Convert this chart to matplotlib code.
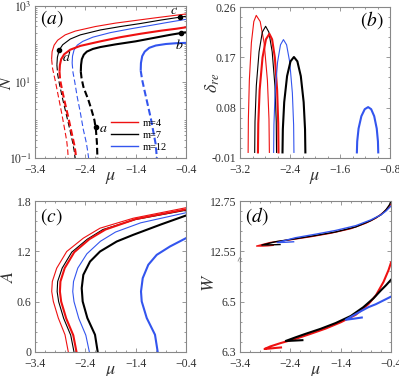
import numpy as np
import matplotlib
matplotlib.use('Agg')
import matplotlib.pyplot as plt
from matplotlib.ticker import MultipleLocator, FixedLocator, LogLocator, NullFormatter, AutoMinorLocator
from matplotlib.lines import Line2D

# ---------------- data: panel (a)  N(mu), stored as log10(N) ----------------
a_red_thin_lo_mu = [-3.07, -3.05, -3.0, -2.94, -2.87, -2.81, -2.77, -2.75, -2.74]
a_red_thin_lo_lgN = [1.6, 1.35, 1.05, 0.65, 0.18, -0.25, -0.55, -0.8, -1.0]
a_red_thin_up_mu = [-3.07, -3.06, -3.02, -2.95, -2.8, -2.6, -2.2, -1.8, -1.4, -1.0, -0.7, -0.4]
a_red_thin_up_lgN = [1.6, 1.8, 1.97, 2.1, 2.24, 2.34, 2.46, 2.55, 2.62, 2.69, 2.74, 2.79]

a_blk_thin_lo_mu = [-2.965, -2.95, -2.91, -2.85, -2.77, -2.7, -2.65, -2.62, -2.605]
a_blk_thin_lo_lgN = [1.45, 1.2, 0.92, 0.55, 0.1, -0.3, -0.6, -0.82, -1.0]
a_blk_thin_up_mu = [-2.965, -2.955, -2.92, -2.85, -2.7, -2.5, -2.1, -1.7, -1.3, -0.9, -0.6, -0.4]
a_blk_thin_up_lgN = [1.45, 1.65, 1.84, 1.98, 2.13, 2.24, 2.37, 2.46, 2.54, 2.63, 2.69, 2.73]

a_red_thick_lo_mu = [-2.913, -2.9, -2.86, -2.8, -2.73, -2.67, -2.62, -2.595, -2.585]
a_red_thick_lo_lgN = [1.27, 1.05, 0.78, 0.42, 0.02, -0.35, -0.65, -0.85, -1.0]
a_red_thick_up_mu = [-2.913, -2.905, -2.88, -2.82, -2.7, -2.5, -2.1, -1.7, -1.3, -0.9, -0.6, -0.4]
a_red_thick_up_lgN = [1.27, 1.45, 1.6, 1.73, 1.85, 1.95, 2.07, 2.18, 2.27, 2.35, 2.40, 2.44]

a_blu_thin_lo_mu = [-2.662, -2.645, -2.61, -2.56, -2.5, -2.44, -2.38, -2.35, -2.335]
a_blu_thin_lo_lgN = [1.5, 1.25, 1.0, 0.6, 0.2, -0.25, -0.6, -0.85, -1.0]
a_blu_thin_up_mu = [-2.662, -2.655, -2.625, -2.56, -2.45, -2.25, -1.9, -1.5, -1.1, -0.8, -0.4]
a_blu_thin_up_lgN = [1.5, 1.68, 1.84, 1.97, 2.07, 2.18, 2.30, 2.40, 2.49, 2.56, 2.65]

a_blk_thick_lo_mu = [-2.49, -2.475, -2.44, -2.39, -2.34, -2.28, -2.22, -2.19, -2.17, -2.16]
a_blk_thick_lo_lgN = [1.27, 1.1, 0.88, 0.7, 0.53, 0.28, 0.0, -0.25, -0.6, -1.0]
a_blk_thick_up_mu = [-2.49, -2.485, -2.47, -2.43, -2.37, -2.25, -2.1, -1.8, -1.4, -1.0, -0.7, -0.4]
a_blk_thick_up_lgN = [1.27, 1.45, 1.6, 1.72, 1.8, 1.87, 1.92, 1.99, 2.07, 2.17, 2.245, 2.31]

a_blu_thick_lo_mu = [-1.30, -1.27, -1.22, -1.16, -1.10, -1.05, -1.0, -0.98]
a_blu_thick_lo_lgN = [1.3, 1.05, 0.75, 0.4, 0.05, -0.3, -0.65, -1.0]
a_blu_thick_up_mu = [-1.30, -1.295, -1.27, -1.22, -1.13, -1.0, -0.8, -0.6, -0.4]
a_blu_thick_up_lgN = [1.3, 1.5, 1.68, 1.80, 1.9, 1.96, 2.0, 2.02, 2.03]

pt_labels = ['a', 'b', 'c', 'd']
pt_mu = [-2.194, -0.5, -0.52, -2.92]
pt_lgN = [-0.18, 2.29, 2.71, 1.84]

legend_labels = ['m=4', 'm=7', 'm=12']

# ---------------- data: panel (b) growth rate delta_re(mu) ----------------
b_red_thin_mu = [-3.07, -3.066, -3.0505, -3.018, -2.979, -2.94, -2.877, -2.814, -2.7615, -2.7363, -2.73]
b_red_thin_d = [0, 0.0595, 0.129, 0.196, 0.234, 0.245, 0.234, 0.196, 0.129, 0.0595, 0]
b_blk_thin_mu = [-2.965, -2.960, -2.939, -2.895, -2.843, -2.79, -2.738, -2.685, -2.641, -2.620, -2.615]
b_blk_thin_d = [0, 0.055, 0.119, 0.180, 0.215, 0.2255, 0.215, 0.180, 0.119, 0.055, 0]
b_red_thick_mu = [-2.913, -2.9075, -2.8856, -2.8398, -2.7849, -2.73, -2.6862, -2.6424, -2.6059, -2.5884, -2.584]
b_red_thick_d = [0, 0.0515, 0.1117, 0.1696, 0.2022, 0.212, 0.2022, 0.1696, 0.1117, 0.0515, 0]
b_blu_thin_mu = [-2.662, -2.6573, -2.6385, -2.5992, -2.5521, -2.505, -2.4546, -2.4042, -2.3622, -2.342, -2.337]
b_blu_thin_d = [0, 0.049, 0.1063, 0.1614, 0.1924, 0.2017, 0.1924, 0.1614, 0.1063, 0.049, 0]
b_blk_thick_mu = [-2.52, -2.5145, -2.4926, -2.4468, -2.3919, -2.337, -2.2821, -2.2272, -2.1815, -2.1595, -2.154]
b_blk_thick_d = [0, 0.0415, 0.0899, 0.1365, 0.1628, 0.1706, 0.1628, 0.1365, 0.0899, 0.0415, 0]
b_blu_thick_mu = [-1.33, -1.3246, -1.303, -1.258, -1.204, -1.15, -1.1014, -1.0528, -1.0123, -0.9929, -0.988]
b_blu_thick_d = [0, 0.0197, 0.0427, 0.0648, 0.0773, 0.081, 0.0773, 0.0648, 0.0427, 0.0197, 0]

# ---------------- data: panel (c) amplitude A(mu) ----------------
c_red_thin_mu = [-2.738, -2.804, -2.937, -3.036, -3.068, -3.056, -2.969, -2.77, -2.44, -2.108, -1.447, -0.4]
c_red_thin_A = [0, 0.206, 0.405, 0.603, 0.722, 0.84, 0.999, 1.198, 1.357, 1.476, 1.595, 1.72]
c_blk_thin_mu = [-2.625, -2.69, -2.83, -2.93, -2.96, -2.95, -2.86, -2.67, -2.36, -2.05, -1.4, -0.4]
c_blk_thin_A = [0, 0.2, 0.4, 0.6, 0.72, 0.84, 1.0, 1.19, 1.345, 1.46, 1.58, 1.69]
c_red_thick_mu = [-2.575, -2.64, -2.78, -2.88, -2.905, -2.895, -2.81, -2.62, -2.32, -2.0, -1.4, -0.4]
c_red_thick_A = [0, 0.2, 0.4, 0.6, 0.72, 0.84, 1.0, 1.19, 1.345, 1.46, 1.585, 1.70]
c_blu_thin_mu = [-2.32, -2.39, -2.53, -2.625, -2.65, -2.635, -2.55, -2.37, -2.1, -1.8, -1.3, -0.4]
c_blu_thin_A = [0, 0.2, 0.4, 0.6, 0.72, 0.84, 1.0, 1.17, 1.32, 1.43, 1.54, 1.66]
c_blk_thick_mu = [-2.154, -2.208, -2.36, -2.453, -2.472, -2.44, -2.307, -2.108, -1.777, -1.447, -0.9, -0.4]
c_blk_thick_A = [0, 0.206, 0.405, 0.603, 0.761, 0.92, 1.078, 1.198, 1.317, 1.397, 1.52, 1.627]
c_blu_thick_mu = [-0.962, -1.016, -1.18, -1.28, -1.294, -1.26, -1.149, -0.982, -0.718, -0.4]
c_blu_thick_A = [0, 0.206, 0.405, 0.603, 0.722, 0.88, 1.04, 1.158, 1.258, 1.357]

# ---------------- data: panel (d) width W(mu) ----------------
d_red_thin_mu = [-2.74, -2.85, -2.95, -3.07, -2.8, -2.4, -2.0, -1.6, -1.2, -0.9, -0.7, -0.55, -0.45, -0.4]
d_red_thin_W = [12.574, 12.572, 12.571, 12.571, 12.585, 12.596, 12.608, 12.622, 12.640, 12.662, 12.682, 12.705, 12.725, 12.738]
d_blk_thin_mu = [-2.605, -2.75, -2.965, -2.7, -2.3, -1.9, -1.5, -1.1, -0.8, -0.6, -0.5, -0.43, -0.4]
d_blk_thin_W = [12.577, 12.576, 12.575, 12.588, 12.600, 12.613, 12.627, 12.647, 12.672, 12.695, 12.715, 12.735, 12.75]
d_blu_thin_mu = [-2.335, -2.5, -2.662, -2.3, -1.9, -1.5, -1.1, -0.8, -0.6, -0.5, -0.4]
d_blu_thin_W = [12.588, 12.586, 12.585, 12.604, 12.618, 12.633, 12.652, 12.675, 12.695, 12.71, 12.73]
d_red_thick_mu = [-2.585, -2.7, -2.8, -2.913, -2.8, -2.6, -2.3, -2.0, -1.7, -1.4, -1.1, -0.85, -0.7, -0.55, -0.45, -0.4]
d_red_thick_W = [6.318, 6.316, 6.314, 6.312, 6.322, 6.335, 6.352, 6.372, 6.393, 6.418, 6.448, 6.49, 6.525, 6.578, 6.625, 6.655]
d_blk_thick_mu = [-2.16, -2.35, -2.49, -2.3, -2.1, -1.8, -1.5, -1.2, -0.95, -0.75, -0.6, -0.5, -0.4]
d_blk_thick_W = [6.347, 6.345, 6.344, 6.358, 6.372, 6.392, 6.415, 6.443, 6.478, 6.513, 6.545, 6.565, 6.587]
d_blu_thick_mu = [-0.98, -1.15, -1.30, -1.15, -1.0, -0.85, -0.7, -0.55, -0.4]
d_blu_thick_W = [6.437, 6.432, 6.428, 6.445, 6.462, 6.478, 6.49, 6.505, 6.52]

# ---------------- style ----------------
plt.rcParams['font.family'] = ['Liberation Serif', 'DejaVu Serif']
plt.rcParams['mathtext.fontset'] = 'stix'

RED = '#ee1111'
BLACK = '#000000'
BLUE = '#3355ee'
LW_THIN = 0.8
LW_THICK = 1.5
TXT = '#333333'
SP = '#888888'
TICK_FS = 8.5
LAB_FS = 13

fig = plt.figure(figsize=(3.99, 3.76), dpi=100)
W_, H_ = 399.0, 376.0
axa = fig.add_axes([35 / W_, 1 - 158 / H_, 151 / W_, 152 / H_])
axb = fig.add_axes([240 / W_, 1 - 158 / H_, 150 / W_, 151 / H_])
axc = fig.add_axes([35 / W_, 1 - 352 / H_, 151 / W_, 151 / H_])
axd = fig.add_axes([240 / W_, 1 - 352 / H_, 151 / W_, 151 / H_])


def style(ax):
    for s in ax.spines.values():
        s.set_color(SP)
        s.set_linewidth(0.8)
    ax.tick_params(which='both', direction='in', top=True, right=True,
                   color=SP, labelcolor=TXT, labelsize=TICK_FS, width=0.6)
    ax.tick_params(axis='x', which='both', pad=4)
    ax.tick_params(axis='y', which='both', pad=2.5)
    ax.tick_params(which='major', length=3)
    ax.tick_params(which='minor', length=1.5)


def labels(ax, ylab, ylab_x, ylab_y=0.5):
    ax.set_ylabel(ylab, fontsize=LAB_FS, color=TXT)
    ax.yaxis.set_label_coords(ylab_x, ylab_y)
    ax.set_xlabel(r'$\mu$', fontsize=LAB_FS, color=TXT)
    ax.xaxis.set_label_coords(0.5, -0.075)


# ---- (a)
dash_thin = (0, (5, 2.5))
dash_thick = (0, (3.2, 1.5))
curves_a = [
    (a_red_thin_lo_mu, a_red_thin_lo_lgN, a_red_thin_up_mu, a_red_thin_up_lgN, RED, LW_THIN),
    (a_blk_thin_lo_mu, a_blk_thin_lo_lgN, a_blk_thin_up_mu, a_blk_thin_up_lgN, BLACK, LW_THIN),
    (a_blu_thin_lo_mu, a_blu_thin_lo_lgN, a_blu_thin_up_mu, a_blu_thin_up_lgN, BLUE, LW_THIN),
    (a_red_thick_lo_mu, a_red_thick_lo_lgN, a_red_thick_up_mu, a_red_thick_up_lgN, RED, LW_THICK),
    (a_blk_thick_lo_mu, a_blk_thick_lo_lgN, a_blk_thick_up_mu, a_blk_thick_up_lgN, BLACK, LW_THICK),
    (a_blu_thick_lo_mu, a_blu_thick_lo_lgN, a_blu_thick_up_mu, a_blu_thick_up_lgN, BLUE, LW_THICK),
]
for lmu, llg, umu, ulg, col, lw in curves_a:
    ls = dash_thin if lw == LW_THIN else dash_thick
    axa.plot(lmu, np.power(10.0, llg), color=col, lw=lw, ls=ls)
    axa.plot(umu, np.power(10.0, ulg), color=col, lw=lw, solid_capstyle='butt')
axa.plot(pt_mu, np.power(10.0, pt_lgN), 'o', color='k', ms=3)
offs = {'a': (2.5, -1), 'b': (-4, -9), 'c': (-7, 5), 'd': (2, -5)}
for lab, m, lg in zip(pt_labels, pt_mu, pt_lgN):
    axa.annotate('$' + lab + '$', (m, 10 ** lg), xytext=offs[lab], textcoords='offset points',
                 fontsize=10, color='k', va='center')
axa.set_yscale('log')
axa.set_xlim(-3.4, -0.4)
axa.set_ylim(0.1, 1000)
axa.set_xticks([-3.4, -2.4, -1.4, -0.4])
axa.xaxis.set_minor_locator(MultipleLocator(0.2))
axa.yaxis.set_major_locator(FixedLocator([0.1, 10, 1000]))
axa.yaxis.set_minor_locator(LogLocator(base=10, subs=np.arange(1, 10), numticks=20))
axa.yaxis.set_minor_formatter(NullFormatter())
axa.set_yticklabels(['$10^{-1}$', '$10^{1}$', '$10^{3}$'])
style(axa)
labels(axa, '$N$', -0.135)
axa.text(0.03, 0.915, '$(a)$', transform=axa.transAxes, fontsize=14, va='center')
handles = [Line2D([], [], color=c, lw=1.0) for c in (RED, BLACK, BLUE)]
axa.legend(handles, legend_labels, loc='lower left', bbox_to_anchor=(0.44, -0.02), frameon=False,
           fontsize=7.5, handlelength=2.6, labelspacing=0.25, handletextpad=0.5)

# ---- (b)
curves_b = [
    (b_red_thin_mu, b_red_thin_d, RED, LW_THIN),
    (b_blk_thin_mu, b_blk_thin_d, BLACK, LW_THIN),
    (b_red_thick_mu, b_red_thick_d, RED, LW_THICK),
    (b_blu_thin_mu, b_blu_thin_d, BLUE, LW_THIN),
    (b_blk_thick_mu, b_blk_thick_d, BLACK, LW_THICK),
    (b_blu_thick_mu, b_blu_thick_d, BLUE, LW_THICK),
]
for mu, d, col, lw in curves_b:
    axb.plot(mu, d, color=col, lw=lw)
axb.set_xlim(-3.2, -0.8)
axb.set_ylim(-0.01, 0.26)
axb.set_xticks([-3.2, -2.4, -1.6, -0.8])
axb.set_yticks([-0.01, 0.08, 0.17, 0.26])
axb.set_yticklabels(['-0.01', '0.08', '0.17', '0.26'])
axb.xaxis.set_minor_locator(MultipleLocator(0.2))
axb.yaxis.set_minor_locator(AutoMinorLocator(5))
style(axb)
labels(axb, r'$\delta_{re}$', -0.12)
axb.text(0.80, 0.915, '$(b)$', transform=axb.transAxes, fontsize=14, va='center')

# ---- (c)
curves_c = [
    (c_red_thin_mu, c_red_thin_A, RED, LW_THIN),
    (c_blk_thin_mu, c_blk_thin_A, BLACK, LW_THIN),
    (c_blu_thin_mu, c_blu_thin_A, BLUE, LW_THIN),
    (c_red_thick_mu, c_red_thick_A, RED, LW_THICK),
    (c_blk_thick_mu, c_blk_thick_A, BLACK, LW_THICK),
    (c_blu_thick_mu, c_blu_thick_A, BLUE, LW_THICK),
]
for mu, A, col, lw in curves_c:
    axc.plot(mu, A, color=col, lw=lw)
axc.set_xlim(-3.4, -0.4)
axc.set_ylim(0, 1.8)
axc.set_xticks([-3.4, -2.4, -1.4, -0.4])
axc.set_yticks([0, 0.6, 1.2, 1.8])
axc.set_yticklabels(['0', '0.6', '1.2', '1.8'])
axc.xaxis.set_minor_locator(MultipleLocator(0.2))
axc.yaxis.set_minor_locator(MultipleLocator(0.12))
style(axc)
labels(axc, '$A$', -0.12)
axc.text(0.03, 0.9, '$(c)$', transform=axc.transAxes, fontsize=14, va='center')

# ---- (d)  broken W axis via a piecewise-linear function scale
W_knots = [0.0, 6.69, 12.55, 20.0]
Y_knots = [-6.3, 0.39, 0.40, 7.85]


def fwd(w):
    return np.interp(w, W_knots, Y_knots)


def inv(y):
    return np.interp(y, Y_knots, W_knots)


curves_d = [
    (d_red_thin_mu, d_red_thin_W, RED, 1.0),
    (d_blk_thin_mu, d_blk_thin_W, BLACK, 1.0),
    (d_blu_thin_mu, d_blu_thin_W, BLUE, 1.0),
    (d_red_thick_mu, d_red_thick_W, RED, LW_THICK),
    (d_blk_thick_mu, d_blk_thick_W, BLACK, LW_THICK),
    (d_blu_thick_mu, d_blu_thick_W, BLUE, LW_THICK),
]
axd.set_yscale('function', functions=(fwd, inv))
for mu, W, col, lw in curves_d:
    axd.plot(mu, W, color=col, lw=lw)
axd.set_xlim(-3.4, -0.4)
axd.set_ylim(6.3, 12.75)
axd.set_xticks([-3.4, -2.4, -1.4, -0.4])
axd.xaxis.set_minor_locator(MultipleLocator(0.2))
axd.set_yticks([6.3, 6.5, 12.55, 12.75])
axd.set_yticklabels(['6.3', '6.5', '12.55', '12.75'])
axd.yaxis.set_minor_locator(FixedLocator([6.34, 6.38, 6.42, 6.46, 6.54, 6.58, 6.62, 6.66,
                                          12.59, 12.63, 12.67, 12.71]))
axd.yaxis.set_minor_formatter(NullFormatter())
style(axd)
labels(axd, '$W$', -0.145, 0.46)
axd.text(0.03, 0.9, '$(d)$', transform=axd.transAxes, fontsize=14, va='center')
axd.text(0.0, 0.61, '=', transform=axd.transAxes, fontsize=7, rotation=65,
         ha='center', va='center', color='#555555')

fig.savefig('out.png', dpi=100)
